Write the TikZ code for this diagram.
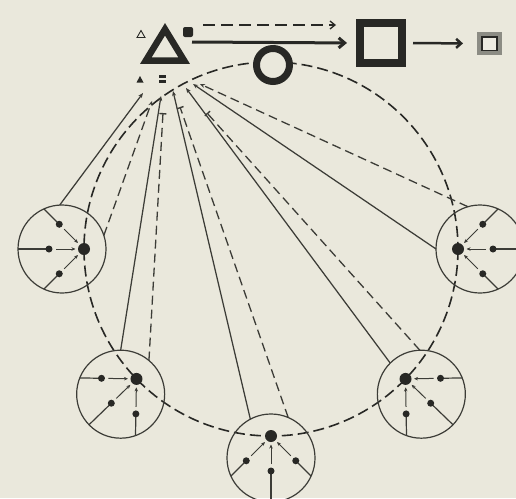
\documentclass[tikz,border=0pt]{standalone}
\usetikzlibrary{arrows.meta,calc}
\definecolor{paper}{RGB}{234,232,220}
\definecolor{ink}{RGB}{40,40,37}
\definecolor{pen}{RGB}{60,60,55}
\definecolor{framegray}{RGB}{140,140,132}
\tikzset{
  thinpen/.style={draw=pen, line width=1.2pt},
  bigdash/.style={draw=ink, line width=1.6pt, dash pattern=on 11pt off 5pt},
  conndash/.style={draw=pen, line width=1.3pt, dash pattern=on 9pt off 5pt},
  connsolid/.style={draw=pen, line width=1.25pt},
  bigdot/.style={circle, fill=ink, inner sep=0pt, minimum size=12pt, outer sep=1.5pt},
  smalldot/.style={circle, fill=ink, inner sep=0pt, minimum size=7pt, outer sep=1.5pt},
  tiparrow/.style={-{Stealth[length=5pt,width=4pt]}},
  tipbar/.style={-{Bar[width=7pt,line width=1.4pt]}},
}
\newcommand\mycluster[2]{%
  \coordinate (#1b0) at ($(C)+(#2:187)$);
  \coordinate (#1c) at ($(#1b0)+(#2:22)$);
  \draw[thinpen] (#1c) circle (44);
  \begin{scope}
    \clip (#1c) circle (44);
    \foreach \d in {-45,0,45}{
      \draw[thinpen] ($(#1b0)+(#2+\d:35)$) -- ($(#1b0)+(#2+\d:90)$);
    }
  \end{scope}
  \node[bigdot] (#1b) at (#1b0) {};
  \foreach \d/\i in {-45/1,0/2,45/3}{
    \node[smalldot] (#1d\i) at ($(#1b0)+(#2+\d:35)$) {};
    \draw[thinpen, line width=1pt, -{Stealth[length=4pt,width=3.5pt]}, shorten <=2pt, shorten >=1pt] (#1d\i) -- (#1b);
  }
}
\begin{document}
\begin{tikzpicture}[x=1pt,y=-1pt]
\useasboundingbox (0,0) rectangle (516,498);
\fill[paper] (0,0) rectangle (516,498);
\begin{scope}
\clip (0,0) rectangle (516,498);
\coordinate (C) at (271,249);
\draw[bigdash] (C) circle (187);

% small circle centres (needed for connector starts)
\foreach \n/\a in {L/180,LL/136,B/90,LR/44,R/0}{
  \coordinate (\n cc) at ($(C)+(\a:209)$);
}
\coordinate (Lsa) at ($(Lcc)+(-93:44)$);
\coordinate (Lsb) at ($(Lcc)+(-18:44)$);
\coordinate (LLsa) at ($(LLcc)+(-90:44)$);
\coordinate (LLsb) at ($(LLcc)+(-50:44)$);
\coordinate (Bsa) at ($(Bcc)+(-118:44)$);
\coordinate (Bsb) at ($(Bcc)+(-67:44)$);
\coordinate (LRsa) at ($(LRcc)+(-135:44)$);
\coordinate (LRsb) at ($(LRcc)+(-92:44)$);
\coordinate (Rsa) at ($(Rcc)+(180:44)$);
\coordinate (Rsb) at ($(Rcc)+(-106:44)$);

\coordinate (tA) at (143,93);
\coordinate (tB) at (152,101);
\coordinate (tC) at (161,96);
\coordinate (tD) at (163,113);
\coordinate (tE) at (173,91);
\coordinate (tF) at (180,107);
\coordinate (tG) at (186,88);
\coordinate (tH) at (207,113);
\coordinate (tI) at (193,84);
\coordinate (tJ) at (200,84);

\draw[connsolid,tiparrow] (Lsa) -- (tA);
\draw[conndash,tiparrow] (Lsb) -- (tB);
\draw[connsolid,tiparrow] (LLsa) -- (tC);
\draw[conndash,tipbar] (LLsb) -- (tD);
\draw[connsolid,tiparrow] (Bsa) -- (tE);
\draw[conndash,tipbar] (Bsb) -- (tF);
\draw[connsolid,tiparrow] (LRsa) -- (tG);
\draw[conndash,tipbar] (LRsb) -- (tH);
\draw[connsolid,tiparrow] (Rsa) -- (tI);
\draw[conndash,tiparrow] (Rsb) -- (tJ);

\mycluster{L}{180}
\mycluster{LL}{136}
\mycluster{B}{90}
\mycluster{LR}{44}
\mycluster{R}{0}

% small marks near the apex
\fill[ink] (136.5,82.5) -- (143.5,82.5) -- (140,76) -- cycle;
\fill[ink] (159,75) rectangle (166,77.5);
\fill[ink] (159,80) rectangle (166,82.5);

% top row
\draw[ink, line width=0.9pt, line join=miter] (137,37.5) -- (145,37.5) -- (141,30.5) -- cycle;
\draw[ink, line width=6.5pt, line join=miter] (145.8,60.7) -- (184.2,60.7) -- (165,29.3) -- cycle;
\node[fill=ink, rounded corners=2pt, minimum size=10pt, inner sep=0pt] (dot) at (188,32) {};
\coordinate (da) at (203,25);
\coordinate (db) at (336,25);
\draw[ink, line width=1.3pt, dash pattern=on 12pt off 6pt, -{Straight Barb[length=5pt,width=8pt]}] (da) -- (db);
\coordinate (ta) at (192,42);
\node[draw=ink, line width=8pt, minimum width=42pt, minimum height=40pt, inner sep=0pt] (bigsq) at (381,43) {};
\draw[ink, line width=3pt, shorten >=9pt, -{Straight Barb[length=6pt,width=10pt]}] (ta) -- (bigsq.west);
\node[fill=framegray, minimum width=25pt, minimum height=23pt, inner sep=0pt, outer sep=0pt] (smsq) at (489.5,43.5) {};
\draw[ink, line width=1.8pt, fill=paper!85!white] (482,37) rectangle (497,50.5);
\draw[ink, line width=2.5pt, shorten <=7pt, shorten >=14pt, -{Straight Barb[length=5pt,width=9pt]}] (bigsq.east) -- (smsq.west);
\node[circle, draw=ink, line width=7pt, fill=paper, minimum size=33pt, inner sep=0pt] (ring) at (273,65) {};
\end{scope}
\end{tikzpicture}
\end{document}
